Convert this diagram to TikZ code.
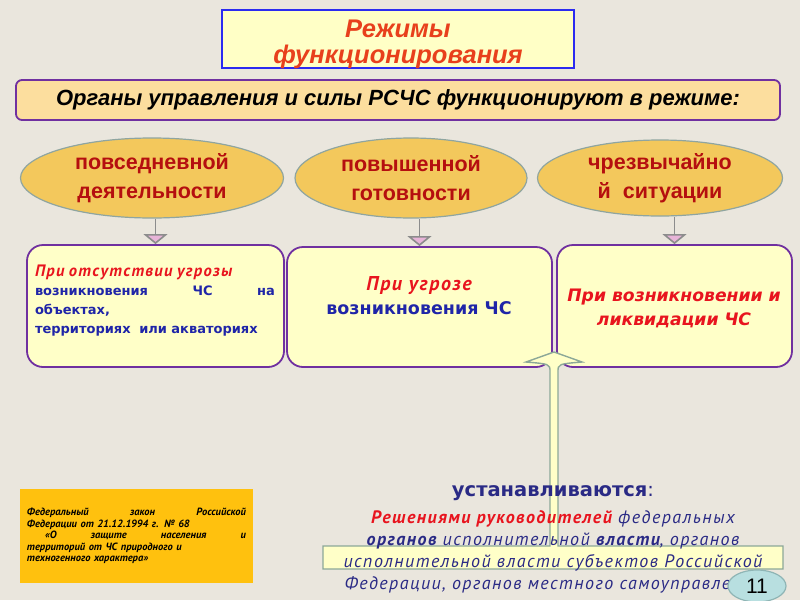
\documentclass[tikz,border=0pt]{standalone}
\usepackage{fontspec}
\setmainfont{Liberation Sans}
\newfontfamily\widefont{DejaVu Sans}
\newfontfamily\cursfont[LetterSpace=8]{PT Sans}
\newfontfamily\lawfont{PT Sans}
\usetikzlibrary{positioning, shapes.geometric, arrows.meta, calc}
\definecolor{paper}{HTML}{EAE6DD}
\definecolor{titlefill}{HTML}{FFFFC6}
\definecolor{titleline}{HTML}{2B2BF0}
\definecolor{titletx}{HTML}{E8401C}
\definecolor{headfill}{HTML}{FCDE9E}
\definecolor{violet}{HTML}{7030A0}
\definecolor{modefill}{HTML}{F3C85C}
\definecolor{modeline}{HTML}{8FA5A0}
\definecolor{modetx}{HTML}{B50F0F}
\definecolor{boxfill}{HTML}{FFFFC8}
\definecolor{redtx}{HTML}{E8141E}
\definecolor{bluetx}{HTML}{1F25A8}
\definecolor{navytx}{HTML}{2A2A85}
\definecolor{lawfill}{HTML}{FFC10E}
\definecolor{stemgray}{HTML}{8C8C8C}
\definecolor{pinkhd}{HTML}{E8B4D8}
\definecolor{barline}{HTML}{8CA898}
\definecolor{numfill}{HTML}{B8DFE0}
\definecolor{numline}{HTML}{8FB5B5}
\newcommand\spreadline[1]{\leavevmode\hbox to\linewidth{#1}}
\tikzset{
  modeell/.style={ellipse,draw=modeline,line width=1.2pt,fill=modefill,
    text=modetx,font=\fontsize{21.5}{29}\selectfont\bfseries,align=center,inner sep=0pt},
  casebox/.style={rectangle,rounded corners=16pt,draw=violet,line width=1.8pt,
    fill=boxfill,inner sep=0pt},
  modearrow/.style={draw=stemgray,line width=1.6pt,
    -{Triangle[width=24pt,length=10pt,fill=pinkhd]}},
  blockarrow/.style={draw=barline,line width=1.4pt,fill=boxfill}
}
\begin{document}
\begin{tikzpicture}[x=1pt,y=-1pt]
\fill[paper] (0,0) rectangle (800,600);
\useasboundingbox (0,0) rectangle (800,600);
% title and heading
\node[draw=titleline,line width=1.6pt,fill=titlefill,minimum width=352pt,minimum height=58pt]
  (titlebox) at (398,39) {};
\node[text=titletx,font=\fontsize{25.5}{26}\selectfont\bfseries\itshape,align=center]
  (title) at (398,44) {Режимы\\функционирования};
\node[draw=violet,line width=1.8pt,fill=headfill,rounded corners=6pt,minimum width=764pt,
  minimum height=40pt,font=\fontsize{22}{22}\selectfont\bfseries\itshape] (head) at (398,100)
  {Органы управления и силы РСЧС функционируют в режиме:};
% three cases
\node[casebox,minimum width=257pt,minimum height=122pt] (B-1) at (155.5,306) {};
\node[casebox,minimum width=265pt,minimum height=120pt] (B-2) at (419.5,307) {};
\node[casebox,minimum width=235pt,minimum height=122pt] (B-3) at (674.5,306) {};
\node[text width=240pt,align=left,font=\widefont\fontsize{13}{19}\selectfont\bfseries,text=bluetx]
  (T-1) at (155,301)
  {{\color{redtx}\cursfont\fontsize{16.5}{19}\selectfont\itshape При отсутствии угрозы}\\
   \spreadline{возникновения\hfil ЧС\hfil на}\\
   объектах,\\
   территориях\ \ или акваториях};
\node[align=center,font=\widefont\fontsize{17.5}{24}\selectfont\bfseries,text=bluetx] (T-2) at (419,296)
  {{\color{redtx}\cursfont\fontsize{20}{24}\selectfont\itshape При угрозе}\\возникновения ЧС};
\node[align=center,font=\widefont\fontsize{17.2}{24}\selectfont\bfseries\itshape,text=redtx] (T-3) at (674,308)
  {При возникновении и\\ликвидации ЧС};
% modes
\foreach \X/\cx/\w/\h [count=\Y] in
  {{повседневной\\деятельности}/152/263/80,
   {повышенной\\готовности}/411/232/80,
   {чрезвычайно\\й\ \ ситуации}/660/245/76}
  {\node[modeell,minimum width=\w pt,minimum height=\h pt] (F-\Y) at (\cx,178) {\X};
   \draw[modearrow] (B-\Y.north |- F-\Y.south) -- (B-\Y.north);}
% bar with arrow up
\draw[blockarrow] (323,546) -- (550,546) -- (550,372) .. controls (550,364) .. (526,362)
  -- (554,352) -- (582,362) .. controls (558,364) .. (558,372) -- (558,546) -- (783,546)
  -- (783,569) -- (323,569) -- cycle;
\node[font=\widefont\fontsize{19.5}{22}\selectfont\bfseries,text=navytx] (U) at (553,493)
  {устанавливаются{\mdseries :}};
\node[below=3pt of U,align=center,font=\cursfont\fontsize{18}{22}\selectfont\itshape,text=navytx]
  (who) {{\color{redtx}\bfseries Решениями руководителей} федеральных\\
   {\bfseries органов} исполнительной {\bfseries власти}, органов\\
   исполнительной власти субъектов Российской\\
   Федерации, органов местного самоуправления};
% law reference
\node[fill=lawfill,minimum width=233pt,minimum height=94pt,text width=219pt,align=left,
  font=\lawfont\fontsize{10.5}{11.5}\selectfont\bfseries\itshape] (law) at (136.5,536)
  {\spreadline{Федеральный\hfil закон\hfil Российской}\\
   Федерации от 21.12.1994 г. № 68\\
   \spreadline{\hspace{18pt}«О\hfil защите\hfil населения\hfil и}\\
   \spreadline{территорий от ЧС природного и}\\
   техногенного характера»};
% slide number
\node[ellipse,draw=numline,line width=1.2pt,fill=numfill,minimum width=58pt,minimum height=32pt,
  font=\fontsize{21}{22}\selectfont] (num) at (757,586) {11};
\end{tikzpicture}
\end{document}
